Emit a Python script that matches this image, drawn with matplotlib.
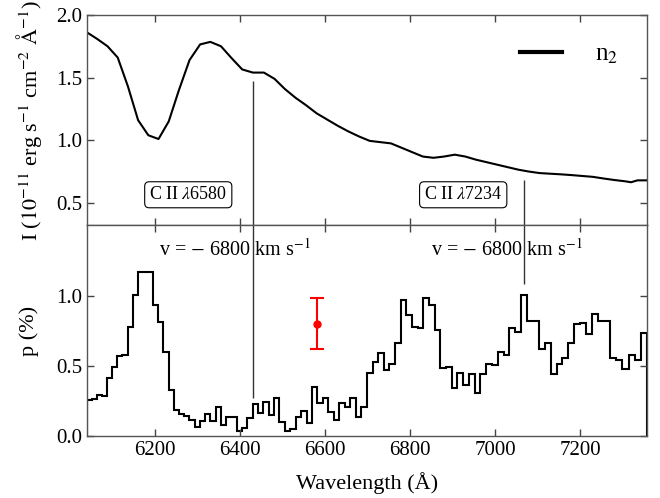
import numpy as np
import matplotlib
matplotlib.use("Agg")
import matplotlib.pyplot as plt

plt.rcParams['font.family'] = ['Liberation Serif', 'DejaVu Serif']
plt.rcParams['mathtext.fontset'] = 'stix'

# flux spectrum (10^-11 erg s^-1 cm^-2 A^-1)
flux_wl = [6040, 6063, 6088, 6112, 6136, 6160, 6184, 6208, 6232, 6256,
           6281, 6306, 6330, 6355, 6380, 6405, 6430, 6456, 6481, 6505,
           6530, 6555, 6580, 6605, 6630, 6655, 6680, 6705, 6730, 6755,
           6780, 6805, 6830, 6855, 6880, 6905, 6930, 6955, 6980, 7005,
           7030, 7055, 7080, 7105, 7130, 7155, 7180, 7205, 7230, 7255,
           7280, 7305, 7320, 7335, 7360]
flux = [1.86, 1.81, 1.75, 1.66, 1.43, 1.16, 1.04, 1.01, 1.15, 1.40,
        1.64, 1.765, 1.785, 1.75, 1.655, 1.565, 1.54, 1.54, 1.49, 1.41,
        1.34, 1.28, 1.215, 1.165, 1.115, 1.07, 1.03, 0.995, 0.985, 0.975,
        0.94, 0.905, 0.87, 0.86, 0.87, 0.885, 0.87, 0.845, 0.825, 0.805,
        0.785, 0.765, 0.75, 0.738, 0.733, 0.728, 0.722, 0.715, 0.708, 0.695,
        0.683, 0.673, 0.665, 0.68, 0.68]

# polarisation, binned at constant velocity (~585 km/s per bin)
pol_start, pol_end = 6040, 7357
pol = [0.257, 0.264, 0.293, 0.286, 0.41, 0.49, 0.567, 0.58, 0.774, 1.005,
       1.167, 1.167, 1.167, 0.93, 0.81, 0.595, 0.33, 0.186, 0.157, 0.143,
       0.114, 0.067, 0.11, 0.157, 0.107, 0.21, 0.079, 0.138, 0.138, 0.033,
       0.055, 0.126, 0.226, 0.167, 0.245, 0.15, 0.269, 0.102, 0.038, 0.048,
       0.133, 0.176, 0.09, 0.352, 0.238, 0.274, 0.174, 0.114, 0.233, 0.21,
       0.269, 0.138, 0.21, 0.452, 0.529, 0.59, 0.471, 0.512, 0.662, 0.967,
       0.864, 0.776, 0.769, 0.983, 0.936, 0.757, 0.488, 0.495, 0.34, 0.448,
       0.364, 0.443, 0.305, 0.44, 0.512, 0.507, 0.598, 0.574, 0.769, 0.738,
       1.007, 0.817, 0.817, 0.621, 0.662, 0.443, 0.512, 0.557, 0.662, 0.8,
       0.805, 0.726, 0.871, 0.821, 0.817, 0.555, 0.543, 0.476, 0.574, 0.543,
       0.733]

# typical error bar
err_wl, err_p, err_dp = 6580, 0.80, 0.18

# C II lines at v = -6800 km/s
lines = [6430, 7068]
line_flux_top = [1.47, 0.68]
line_pol_bot = [0.27, 1.08]
line_names = [r'C II $\lambda$6580', r'C II $\lambda$7234']
box_x = [6278, 6925]
vel_text = r'v = $-$ 6800 km s$^{-1}$'
vel_x = [6388, 7028]

edges = np.geomspace(pol_start, pol_end, len(pol) + 1)

fig, (ax1, ax2) = plt.subplots(2, 1, figsize=(6.6, 4.98), dpi=100, sharex=True)
fig.subplots_adjust(left=0.132, right=0.980, top=0.970, bottom=0.1245, hspace=0)

ax1.plot(flux_wl, flux, color='black', lw=1.5, label=r'n$_2$')
ax1.set_ylim(0.32, 2.0)
ax1.set_yticks([0.5, 1.0, 1.5, 2.0])
ax1.set_ylabel(r'I ($10^{-11}$ erg s$^{-1}$ cm$^{-2}$ $\rm\AA^{-1}$)', fontsize=16,
               labelpad=9)
leg = ax1.legend(loc='upper right', frameon=False, fontsize=18, handlelength=1.7,
                 handletextpad=1.3, borderaxespad=0.75)
for h in leg.get_lines():
    h.set_linewidth(3)

ax2.stairs(pol, edges, color='black', lw=1.5)
ax2.errorbar([err_wl], [err_p], yerr=[err_dp], fmt='o', color='red', ms=5,
             capsize=5, elinewidth=1.5, capthick=1.5)
ax2.set_ylim(0, 1.5)
ax2.set_yticks([0.0, 0.5, 1.0])
ax2.set_ylabel('p (%)', fontsize=16, labelpad=12)
ax2.set_xlabel('Wavelength (Å)', fontsize=16, labelpad=9)
ax2.set_xlim(pol_start, pol_end)
ax2.set_xticks([6200, 6400, 6600, 6800, 7000, 7200])

for i in range(len(lines)):
    ax1.vlines(lines[i], 0.32, line_flux_top[i], color='#333333', lw=1)
    ax2.vlines(lines[i], line_pol_bot[i], 1.5, color='#333333', lw=1)
    ax1.text(box_x[i], 0.565, line_names[i], fontsize=13, ha='center', va='center',
             bbox=dict(boxstyle='round,pad=0.25', fc='white', ec='black', lw=0.8))
    ax2.text(vel_x[i], 1.33, vel_text, fontsize=14.5, ha='center', va='center')

for ax in (ax1, ax2):
    ax.tick_params(direction='in', top=True, right=True, length=5, width=1,
                   labelsize=15, color='#444444')
    for s in ax.spines.values():
        s.set_color('#555555')
        s.set_linewidth(1)

fig.savefig('out.png', dpi=100)
